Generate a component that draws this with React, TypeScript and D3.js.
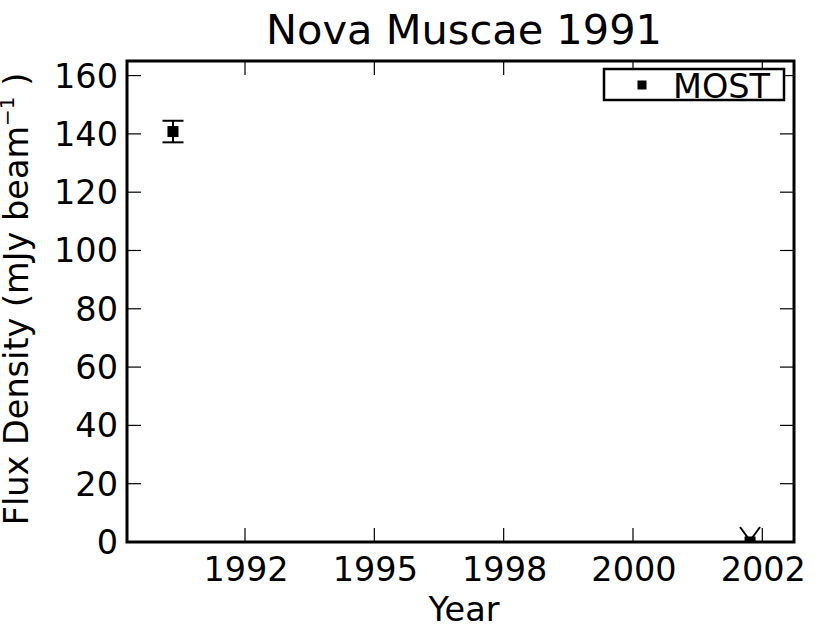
import React from "react";
import * as d3 from "d3";

const title = "Nova Muscae 1991";
const xLabel = "Year";
const seriesName = "MOST";
// decimal-year positions of the observations
const obsX = [1990.886, 1999.81];
const obsY = [140.8, 0];
const obsErr = [3.7, 0];
const obsUpperLimit = [false, true];
const xTickValues = [1992, 1994, 1996, 1998, 2000];
const xTickLabels = ["1992", "1995", "1998", "2000", "2002"];
const yTickValues = [0, 20, 40, 60, 80, 100, 120, 140, 160];

const W = 830, H = 631;
const L = 127, R = 794, T = 61, B = 542;
const FONT = "DejaVu Sans";

export default function App() {
  const x = d3.scaleLinear().domain([1990.175, 2000.49]).range([L, R]);
  const y = d3.scaleLinear().domain([0, 165]).range([B, T]);
  const tickLen = 14;
  const fs = 33.5;
  const ms = 11;
  return (
    <svg width={W} height={H} style={{ position: "absolute", left: 0, top: 0, background: "#fff" }} fontFamily={FONT}>
      <defs>
        <clipPath id="plotclip">
          <rect x={L} y={T} width={R - L} height={B - T} />
        </clipPath>
      </defs>
      <rect x={0} y={0} width={W} height={H} fill="#fff" />
      <text x={464} y={44} fontSize={41.5} textAnchor="middle">{title}</text>
      {/* ticks */}
      {xTickValues.map((v, i) => (
        <g key={"xt" + i}>
          <line x1={x(v)} x2={x(v)} y1={B} y2={B - tickLen} stroke="#000" strokeWidth={1.2} />
          <line x1={x(v)} x2={x(v)} y1={T} y2={T + tickLen} stroke="#000" strokeWidth={1.2} />
          <text x={x(v) + 1} y={581} fontSize={fs} textAnchor="middle">{xTickLabels[i]}</text>
        </g>
      ))}
      {yTickValues.map((v, i) => (
        <g key={"yt" + i}>
          <line x1={L} x2={L + tickLen} y1={y(v)} y2={y(v)} stroke="#000" strokeWidth={1.2} />
          <line x1={R} x2={R - tickLen} y1={y(v)} y2={y(v)} stroke="#000" strokeWidth={1.2} />
          <text x={118} y={y(v) + 12} fontSize={fs} textAnchor="end">{String(v)}</text>
        </g>
      ))}
      {/* data */}
      <g clipPath="url(#plotclip)">
        {obsX.map((vx, i) => {
          const cx = x(vx), cy = y(obsY[i]);
          return (
            <g key={"p" + i}>
              {obsErr[i] > 0 && (
                <g stroke="#000" strokeWidth={2}>
                  <line x1={cx} x2={cx} y1={y(obsY[i] + obsErr[i])} y2={y(obsY[i] - obsErr[i])} />
                  <line x1={cx - 10.5} x2={cx + 10.5} y1={y(obsY[i] + obsErr[i])} y2={y(obsY[i] + obsErr[i])} />
                  <line x1={cx - 10.5} x2={cx + 10.5} y1={y(obsY[i] - obsErr[i])} y2={y(obsY[i] - obsErr[i])} />
                </g>
              )}
              {obsUpperLimit[i] && (
                <g stroke="#000" strokeWidth={2} fill="none">
                  <line x1={cx - 10} y1={cy - 15} x2={cx - 2} y2={cy - 4} />
                  <line x1={cx + 10} y1={cy - 15} x2={cx + 2} y2={cy - 4} />
                </g>
              )}
              <rect x={cx - ms / 2} y={cy - ms / 2} width={ms} height={ms} fill="#000" />
            </g>
          );
        })}
      </g>
      {/* frame */}
      <rect x={L} y={T} width={R - L} height={B - T} fill="none" stroke="#000" strokeWidth={3} />
      {/* legend */}
      <rect x={604} y={69} width={180} height={31} fill="#fff" stroke="#000" strokeWidth={2.5} />
      <rect x={642 - 4.5} y={85 - 4.5} width={9} height={9} fill="#000" />
      <text x={673} y={98} fontSize={fs}>{seriesName}</text>
      {/* axis labels */}
      <text x={464} y={621} fontSize={fs} textAnchor="middle">{xLabel}</text>
      <text transform={`translate(28,${299}) rotate(-90)`} fontSize={fs} textAnchor="middle">
        Flux Density (mJy beam
        <tspan fontSize={20} dy={-14}>{"\u22121"}</tspan>
        <tspan dy={14}>{" )"}</tspan>
      </text>
    </svg>
  );
}
